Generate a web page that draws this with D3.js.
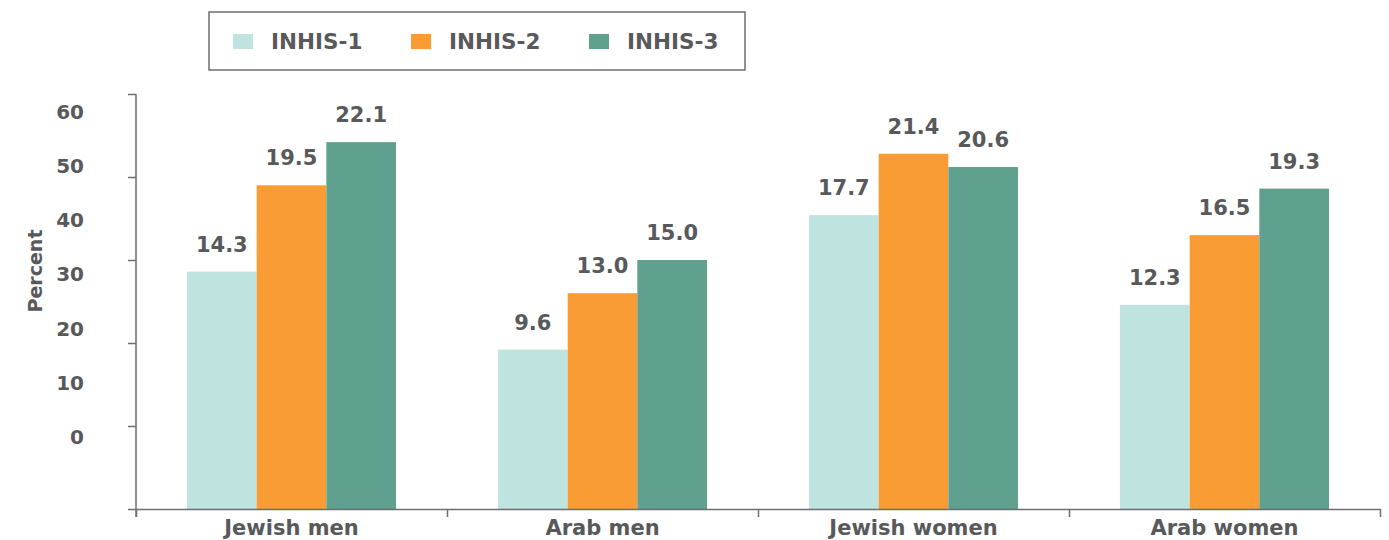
<!DOCTYPE html>
<html>
<head>
<meta charset="utf-8">
<script src="https://cdn.jsdelivr.net/npm/d3@7"></script>
<style>
	body { margin: 0; background: #fff; }
	svg text { font-family: 'DejaVu Sans', sans-serif; font-weight: bold; fill: #58595b; }
</style>
</head>
<body>
<div id="chart"></div>
<script>

var categories = ['Jewish men', 'Arab men', 'Jewish women', 'Arab women'];
var series = ['INHIS-1', 'INHIS-2', 'INHIS-3'];
var inhis1 = [14.3, 9.6, 17.7, 12.3];
var inhis2 = [19.5, 13.0, 21.4, 16.5];
var inhis3 = [22.1, 15.0, 20.6, 19.3];
var yLabels = [0, 10, 20, 30, 40, 50, 60];
var colors = ['#bfe3de', '#f89c33', '#5fa08e'];

var width = 1389;
var height = 540;
var grey = '#6d6e71';

var svg = d3.select('#chart').append('svg')
	.attr('width', width)
	.attr('height', height);

var values = [inhis1, inhis2, inhis3];
var rows = categories.map(function(c, i) {
	return { name: c, vals: series.map(function(s, j) { return { key: s, value: values[j][i] }; }) };
});

// scales
var x0 = d3.scaleBand().domain(categories).range([136, 1380]).paddingInner(0.328).paddingOuter(0.164);
var x1 = d3.scaleBand().domain(series).range([0, x0.bandwidth()]);
var y = d3.scaleLinear().domain([0, 25]).range([509, 94]);
var yText = d3.scaleLinear().domain([0, 60]).range([437, 112]);
var xb = d3.scaleLinear().domain([0, categories.length]).range([136, 1380]);
var color = d3.scaleOrdinal().domain(series).range(colors);

// bars
var groups = svg.append('g').selectAll('g')
	.data(rows)
	.enter().append('g')
	.attr('transform', function(d) { return 'translate(' + x0(d.name) + ',0)'; });

groups.selectAll('rect')
	.data(function(d) { return d.vals; })
	.enter().append('rect')
	.attr('x', function(d) { return x1(d.key); })
	.attr('y', function(d) { return y(d.value); })
	.attr('width', x1.bandwidth())
	.attr('height', function(d) { return y(0) - y(d.value); })
	.style('fill', function(d) { return color(d.key); });

groups.selectAll('text')
	.data(function(d) { return d.vals; })
	.enter().append('text')
	.attr('x', function(d) { return x1(d.key) + x1.bandwidth() / 2; })
	.attr('y', function(d) { return y(d.value) - 20; })
	.attr('text-anchor', 'middle')
	.style('font-size', '21px')
	.text(function(d) { return d.value.toFixed(1); });

// y axis (ticks only)
var yAxis = svg.append('g')
	.attr('transform', 'translate(136,0)')
	.call(d3.axisLeft(y).tickValues([0, 5, 10, 15, 20, 25]).tickSize(8).tickSizeOuter(0).tickFormat(''));
yAxis.select('.domain').attr('d', 'M0,' + y(25) + 'V517');

// y labels
var yLab = svg.append('g')
	.attr('transform', 'translate(84,0)')
	.call(d3.axisLeft(yText).tickValues(yLabels).tickSize(0).tickPadding(0));
yLab.select('.domain').remove();
yLab.selectAll('text').style('font-size', '20px').style('font-family', null).attr('fill', null);

// x axis
var xAxis = svg.append('g')
	.attr('transform', 'translate(0,509)')
	.call(d3.axisBottom(xb).ticks(categories.length).tickSize(8).tickSizeOuter(0).tickFormat(''));

svg.selectAll('.domain, .tick line').attr('stroke', grey).attr('stroke-width', 1.5);

svg.append('g').selectAll('text')
	.data(categories)
	.enter().append('text')
	.attr('x', function(d) { return x0(d) + x0.bandwidth() / 2; })
	.attr('y', 535)
	.attr('text-anchor', 'middle')
	.style('font-size', '21px')
	.text(function(d) { return d; });

// axis title
svg.append('text')
	.attr('transform', 'translate(42,271) rotate(-90)')
	.attr('text-anchor', 'middle')
	.style('font-size', '19px')
	.text('Percent');

// legend
var legend = svg.append('g');
legend.append('rect')
	.attr('x', 209).attr('y', 12).attr('width', 536).attr('height', 58)
	.style('fill', 'none').style('stroke', grey).style('stroke-width', 1.5);

var items = legend.selectAll('g.item')
	.data(series)
	.enter().append('g')
	.attr('class', 'item')
	.attr('transform', function(d, i) { return 'translate(' + (233 + i * 178) + ',0)'; });

items.append('rect')
	.attr('y', 34).attr('width', 20).attr('height', 15)
	.style('fill', function(d) { return color(d); });

items.append('text')
	.attr('x', 38).attr('y', 49)
	.style('font-size', '21.5px')
	.text(function(d) { return d; });

</script>
</body>
</html>
